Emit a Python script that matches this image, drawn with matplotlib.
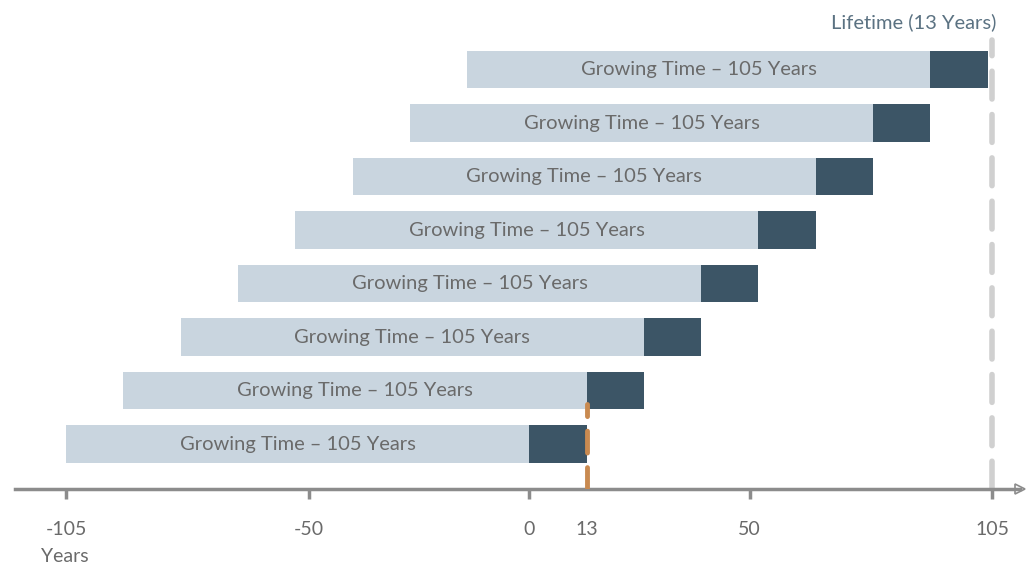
import matplotlib
matplotlib.use("Agg")
import matplotlib.pyplot as plt
import matplotlib.transforms as mtransforms

# Data
rows = list(range(8))  # bottom (0) to top (7)
growing_years = 105
lifetime_years = 13
growing_start = [-105, -92, -79, -66, -53, -40, -27, -14]
bar_labels = ["Growing Time \u2013 105 Years"] * 8
tick_values = [-105, -50, 0, 13, 50, 105]
tick_labels = ["-105", "-50", "0", "13", "50", "105"]
title_text = "Lifetime (13 Years)"
unit_text = "Years"

light = "#c9d5df"
dark = "#3c5566"
orange = "#c98a50"
grey_dash = "#d0d0d0"
axis_col = "#8c8c8c"
text_col = "#6a6a6a"

plt.rcParams['font.family'] = ['Lato', 'DejaVu Sans']

fig = plt.figure(figsize=(10.27, 5.68), dpi=100)
left_px, right_px, axis_px = 15, 1020, 489
ax = fig.add_axes([left_px / 1027, (568 - axis_px) / 568,
                   (right_px - left_px) / 1027, axis_px / 568])
ax.set_xlim(-116.6, 111.3)
ax.set_ylim(-0.84, 8.30)

for r, s, lab in zip(rows, growing_start, bar_labels):
    ax.barh(r, growing_years, left=s, height=0.7, color=light, zorder=2)
    ax.barh(r, lifetime_years, left=s + growing_years, height=0.7, color=dark, zorder=2)
    ax.text(s + growing_years / 2, r, lab, ha="center", va="center",
            fontsize=14.5, color=text_col, zorder=3)

# reference lines
ax.plot([105, 105], [-0.84, 7.55], color=grey_dash, lw=4, ls=(0, (5, 2.8)),
        solid_capstyle="round", dash_capstyle="round", zorder=1)
ax.plot([13, 13], [-0.84, 0.75], color=orange, lw=3.5, ls=(0, (4.5, 3)),
        dash_capstyle="round", zorder=4)

# axis
for sp in ["top", "right", "left"]:
    ax.spines[sp].set_visible(False)
ax.spines["bottom"].set_color(axis_col)
ax.spines["bottom"].set_linewidth(2.5)
ax.set_yticks([])
ax.set_xticks([-105, -50, 0, 50, 105])
ax.set_xticklabels([])
ax.tick_params(axis="x", direction="out", length=7, width=2.5, color=axis_col)
off = mtransforms.ScaledTranslation(0, -32 / 100, fig.dpi_scale_trans)
for v, l in zip(tick_values, tick_labels):
    ax.text(v, -0.84, l, ha="center", va="top", fontsize=14, color=text_col,
            transform=ax.transData + off)
ax.text(-105, -0.84, unit_text, ha="center", va="top", fontsize=14, color=text_col,
        transform=ax.transData + mtransforms.ScaledTranslation(-0.01, -59 / 100, fig.dpi_scale_trans))

# arrow head
ax.plot([1.0], [0.0], marker=">", markersize=7, color=axis_col, transform=ax.transAxes,
        clip_on=False, markerfacecolor="none", markeredgewidth=1.2)

ax.text(105, 8.30, title_text, ha="right", va="center", fontsize=14.5, color="#5b7282",
        transform=ax.transData + mtransforms.ScaledTranslation(0.04, -0.22, fig.dpi_scale_trans))

fig.savefig("out.png", dpi=100)
